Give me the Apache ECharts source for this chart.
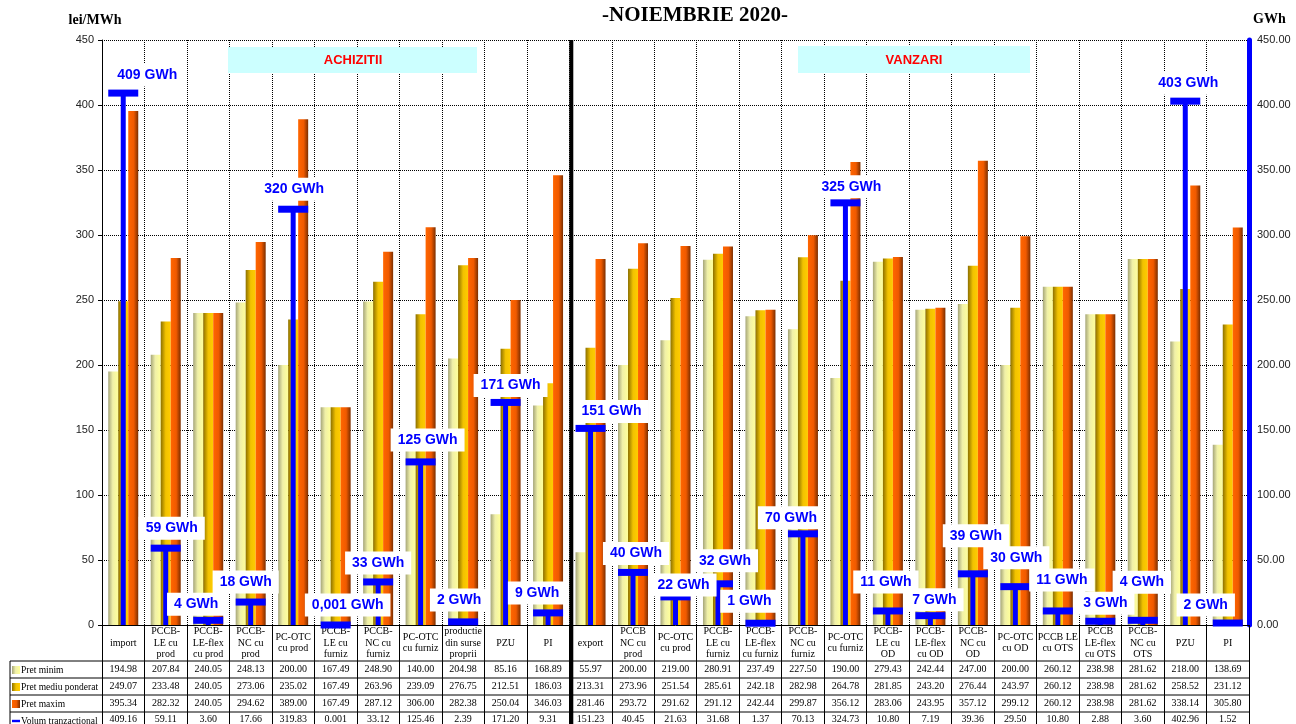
<!DOCTYPE html>
<html>
<head>
<meta charset="utf-8">
<title>NOIEMBRIE 2020</title>
<script src="https://cdn.jsdelivr.net/npm/echarts@6/dist/echarts.min.js"></script>
<style>
  html, body { margin: 0; padding: 0; background: #fff; }
  #main { width: 1296px; height: 724px; }
</style>
</head>
<body>
<div id="main"></div>
<script>
// categorii (11 achizitii + 16 vanzari)
var categorii = [
  'import', 'PCCB-\nLE cu\nprod', 'PCCB-\nLE-flex\ncu prod', 'PCCB-\nNC cu\nprod', 'PC-OTC\ncu prod',
  'PCCB-\nLE cu\nfurniz', 'PCCB-\nNC cu\nfurniz', 'PC-OTC\ncu furniz', 'productie\ndin surse\nproprii', 'PZU', 'PI',
  'export', 'PCCB\nNC cu\nprod', 'PC-OTC\ncu prod', 'PCCB-\nLE cu\nfurniz', 'PCCB-\nLE-flex\ncu furniz',
  'PCCB-\nNC cu\nfurniz', 'PC-OTC\ncu furniz', 'PCCB-\nLE cu\nOD', 'PCCB-\nLE-flex\ncu OD', 'PCCB-\nNC cu\nOD',
  'PC-OTC\ncu OD', 'PCCB LE\ncu OTS', 'PCCB\nLE-flex\ncu OTS', 'PCCB-\nNC cu\nOTS', 'PZU', 'PI'
];
var pretMinim = [194.98, 207.84, 240.05, 248.13, 200.00, 167.49, 248.90, 140.00, 204.98, 85.16, 168.89,
  55.97, 200.00, 219.00, 280.91, 237.49, 227.50, 190.00, 279.43, 242.44, 247.00, 200.00, 260.12, 238.98, 281.62, 218.00, 138.69];
var pretMediu = [249.07, 233.48, 240.05, 273.06, 235.02, 167.49, 263.96, 239.09, 276.75, 212.51, 186.03,
  213.31, 273.96, 251.54, 285.61, 242.18, 282.98, 264.78, 281.85, 243.20, 276.44, 243.97, 260.12, 238.98, 281.62, 258.52, 231.12];
var pretMaxim = [395.34, 282.32, 240.05, 294.62, 389.00, 167.49, 287.12, 306.00, 282.38, 250.04, 346.03,
  281.46, 293.72, 291.62, 291.12, 242.44, 299.87, 356.12, 283.06, 243.95, 357.12, 299.12, 260.12, 238.98, 281.62, 338.14, 305.80];
var volum = [409.16, 59.11, 3.60, 17.66, 319.83, 0.001, 33.12, 125.46, 2.39, 171.20, 9.31,
  151.23, 40.45, 21.63, 31.68, 1.37, 70.13, 324.73, 10.80, 7.19, 39.36, 29.50, 10.80, 2.88, 3.60, 402.96, 1.52];
var ticksStanga = [0, 450, 50];   // min, max, pas
var ticksDreapta = [0, 450, 50];

// deplasarea etichetelor "xx GWh" fata de capatul T (doar asezare)
var labelOffset = [[24,-18],[6,-20],[-12,-16],[-5,-20],[1,-20],[12,-20],[0,-19],[7,-22],[-4,-22],[5,-17],[-11,-20],
  [21,-17],[3,-19],[8,-12],[7,-23],[-11,-22],[-12,-16],[6,-16],[-2,-29],[4,-16],[3,-38],[1,-29],[4,-31],[5,-18],[-1,-38],[3,-18],[-22,-18]];

var G_LEFT = 102, G_RIGHT = 1249, G_TOP = 40, G_BOTTOM = 625;
var catW = (G_RIGHT - G_LEFT) / categorii.length;
var serif = 'Liberation Serif';
var sans = 'Liberation Sans';

function grad(stops) {
  return new echarts.graphic.LinearGradient(0, 0, 1, 0, stops);
}
var colMin = grad([{offset: 0, color: '#a6a67a'}, {offset: 0.45, color: '#f0f0a8'}, {offset: 1, color: '#ffff99'}]);
var colMed = grad([{offset: 0, color: '#8c7000'}, {offset: 0.5, color: '#f2c200'}, {offset: 1, color: '#ffcc00'}]);
var colMax = grad([{offset: 0, color: '#ff6600'}, {offset: 0.55, color: '#f05a00'}, {offset: 1, color: '#7a2e00'}]);

function fmt2(v) { return v < 0.01 ? String(v) : v.toFixed(2); }
function fmtGWh(v) {
  var r = Math.round(v);
  return (r === 0 ? String(v).replace('.', ',') : r) + ' GWh';
}

// randurile tabelului de sub grafic, facute din axe x suplimentare
function rowAxis(arr, off) {
  return {
    type: 'category', data: categorii, gridIndex: 0, position: 'bottom', offset: off,
    axisLine: {show: false}, axisTick: {show: false}, splitLine: {show: false},
    axisLabel: {
      interval: 0, margin: 0, verticalAlign: 'middle', fontFamily: serif, fontSize: 10, color: '#000',
      formatter: function (v, i) { return fmt2(arr[i]); }
    }
  };
}

// T albastru pentru volum + eticheta "xx GWh"
function renderT(params, api) {
  var i = params.dataIndex;
  var top = api.coord([api.value(0), api.value(1)]);
  var base = api.coord([api.value(0), 0]);
  var off = labelOffset[i];
  return {
    type: 'group',
    children: [
      {type: 'rect', shape: {x: top[0] - 2.5, y: top[1], width: 5, height: base[1] - top[1]}, style: {fill: '#0000ff'}},
      {type: 'rect', shape: {x: top[0] - 15, y: top[1] - 3.5, width: 30, height: 7}, style: {fill: '#0000ff'}},
      {
        type: 'text', x: top[0] + off[0], y: top[1] + off[1], z2: 10,
        style: {
          text: fmtGWh(api.value(1)), fill: '#0000ff', font: 'bold 14px "Liberation Sans"',
          align: 'center', verticalAlign: 'middle', backgroundColor: '#fff', padding: [5, 7, 4, 7]
        }
      }
    ]
  };
}

var myChart = echarts.init(document.getElementById('main'));

var tableLines = [];
[661, 678, 695, 712].forEach(function (y) {
  tableLines.push({type: 'line', shape: {x1: 10, y1: y, x2: G_RIGHT, y2: y}, style: {stroke: '#000', lineWidth: 1}, z: 50});
});
tableLines.push({type: 'line', shape: {x1: 10, y1: 661, x2: 10, y2: 724}, style: {stroke: '#000', lineWidth: 1}, z: 50});
var divX = G_LEFT + 11 * catW + 2;
tableLines.push({type: 'line', shape: {x1: divX, y1: G_TOP, x2: divX, y2: 724}, style: {stroke: '#000', lineWidth: 4}, z: 60});

var option = {
  backgroundColor: '#fff',
  animation: false,
  title: {
    text: '-NOIEMBRIE 2020-', left: 597, top: 0,
    textStyle: {fontFamily: serif, fontWeight: 'bold', fontSize: 21, color: '#000'}
  },
  legend: {
    orient: 'vertical', left: 12, top: 664, height: 90, itemWidth: 8, itemHeight: 8, itemGap: 5, padding: 0,
    selectedMode: false,
    textStyle: {fontFamily: serif, fontSize: 9.5, color: '#000', padding: [0, 0, 0, -4], lineHeight: 12},
    data: [
      {name: 'Pret minim', icon: 'rect'},
      {name: 'Pret mediu ponderat', icon: 'rect'},
      {name: 'Pret maxim', icon: 'rect'},
      {name: 'Volum tranzactional', icon: 'path://M0,3.5H10V6.5H0Z'}
    ]
  },
  grid: {left: G_LEFT, right: 1296 - G_RIGHT, top: G_TOP, bottom: 724 - G_BOTTOM},
  xAxis: [
    {
      type: 'category', data: categorii,
      axisLine: {lineStyle: {color: '#000', width: 1}},
      axisTick: {show: true, length: 99, lineStyle: {color: '#000'}},
      splitLine: {show: true, lineStyle: {color: '#000', type: 'dotted', width: 1}},
      axisLabel: {interval: 0, margin: 18, verticalAlign: 'middle', fontFamily: serif, fontSize: 10, lineHeight: 11.5, color: '#000'}
    },
    rowAxis(pretMinim, 44.5),
    rowAxis(pretMediu, 61.5),
    rowAxis(pretMaxim, 78.5),
    rowAxis(volum, 94)
  ],
  yAxis: [
    {
      type: 'value', min: ticksStanga[0], max: ticksStanga[1], interval: ticksStanga[2],
      name: 'lei/MWh', nameLocation: 'end', nameGap: 13,
      nameTextStyle: {fontFamily: serif, fontWeight: 'bold', fontSize: 14, color: '#000', padding: [0, 14, 0, 0]},
      axisLine: {show: true, lineStyle: {color: '#000', width: 1}},
      axisTick: {show: true, length: 4, lineStyle: {color: '#000'}},
      splitLine: {show: true, lineStyle: {color: '#000', type: 'dotted', width: 1}},
      axisLabel: {fontFamily: sans, fontSize: 11, color: '#222', margin: 8}
    },
    {
      type: 'value', min: ticksDreapta[0], max: ticksDreapta[1], interval: ticksDreapta[2], position: 'right',
      name: 'GWh', nameLocation: 'end', nameGap: 14,
      nameTextStyle: {fontFamily: serif, fontWeight: 'bold', fontSize: 14, color: '#000', align: 'left', padding: [0, 0, 0, 4]},
      axisLine: {show: true, lineStyle: {color: '#0000ff', width: 5}},
      axisTick: {show: true, length: 3, lineStyle: {color: '#0000ff'}},
      splitLine: {show: false},
      axisLabel: {fontFamily: sans, fontSize: 11, color: '#222', margin: 8, formatter: function (v) { return v.toFixed(2); }}
    }
  ],
  series: [
    {name: 'Pret minim', type: 'bar', barWidth: 10, barGap: '0%', data: pretMinim, itemStyle: {color: colMin}, z: 2},
    {name: 'Pret mediu ponderat', type: 'bar', barWidth: 10, barGap: '0%', data: pretMediu, itemStyle: {color: colMed}, z: 2},
    {name: 'Pret maxim', type: 'bar', barWidth: 10, barGap: '0%', data: pretMaxim, itemStyle: {color: colMax}, z: 2},
    {
      name: 'Volum tranzactional', type: 'custom', yAxisIndex: 1, renderItem: renderT, clip: false,
      itemStyle: {color: '#0000ff'}, z: 5, silent: true,
      encode: {x: 0, y: 1},
      data: volum.map(function (v, i) { return [i, v]; })
    }
  ],
  graphic: tableLines.concat([
    {type: 'rect', shape: {x: 228, y: 47, width: 249, height: 26}, style: {fill: '#ccffff'}, z: 1},
    {type: 'text', x: 353, y: 60, style: {text: 'ACHIZITII', fill: '#ff0000', font: 'bold 13px "Liberation Sans"', align: 'center', verticalAlign: 'middle'}, z: 1},
    {type: 'rect', shape: {x: 798, y: 46, width: 232, height: 27}, style: {fill: '#ccffff'}, z: 1},
    {type: 'text', x: 914, y: 60, style: {text: 'VANZARI', fill: '#ff0000', font: 'bold 13px "Liberation Sans"', align: 'center', verticalAlign: 'middle'}, z: 1}
  ])
};

myChart.setOption(option);
window.onresize = myChart.resize;
</script>
</body>
</html>
